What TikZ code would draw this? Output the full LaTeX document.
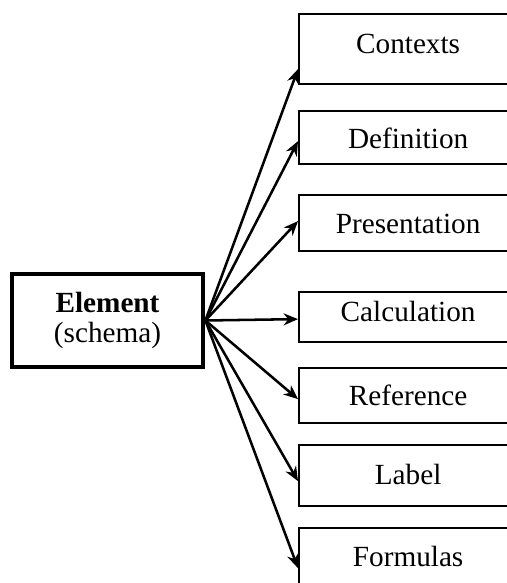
\documentclass[tikz,border=0pt]{standalone}
\usepackage{fontspec}
\setmainfont{Liberation Serif}
\usetikzlibrary{arrows.meta,calc}

\begin{document}
\begin{tikzpicture}[every node/.style={font=\fontsize{20.8}{21.3}\selectfont},
  leaf/.style={draw,line width=1.6pt,inner sep=0pt,text width=5.45cm,align=center,anchor=base west},
  elem/.style={draw,line width=3.4pt,inner sep=0pt,minimum width=4.775cm,minimum height=2.325cm,align=center},
  link/.style={line width=1.8pt,-{Stealth[length=0.36cm,width=0.3cm]}}]
\useasboundingbox (0,0) rectangle (12.675,14.575);
\clip (0,0) rectangle (12.675,14.575);
\node[elem] (el) at (2.6875,6.5625) {\textbf{Element}\\(schema)};
\node[leaf,text height=1.0cm,text depth=0.75cm] (c1) at (7.45,13.225) {Contexts};
\node[leaf,text height=0.95cm,text depth=0.375cm] (c2) at (7.45,10.85) {Definition};
\node[leaf,text height=0.975cm,text depth=0.425cm] (c3) at (7.45,8.725) {Presentation};
\node[leaf,text height=0.75cm,text depth=0.5cm] (c4) at (7.45,6.525) {Calculation};
\node[leaf,text height=0.95cm,text depth=0.425cm] (c5) at (7.45,4.425) {Reference};
\node[leaf,text height=1.0cm,text depth=0.525cm] (c6) at (7.45,2.45) {Label};
\node[leaf,text height=0.975cm,text depth=0.575cm] (c7) at (7.45,0.4) {Formulas};
% arrows from the element to each part
\draw[link] (el.east) -- ($(c1.south west)+(0,0.4)$);
\draw[link] (el.east) -- ($(c2.south west)+(0,0.6)$);
\draw[link] (el.east) -- ($(c3.south west)+(0,0.775)$);
\draw[link] (el.east) -- ($(c4.south west)+(0,0.6)$);
\draw[link] (el.east) -- ($(c5.south west)+(0,0.625)$);
\draw[link] (el.east) -- ($(c6.south west)+(0,0.65)$);
\draw[link] (el.east) -- ($(c7.south west)+(0,0.575)$);
\end{tikzpicture}
\end{document}
